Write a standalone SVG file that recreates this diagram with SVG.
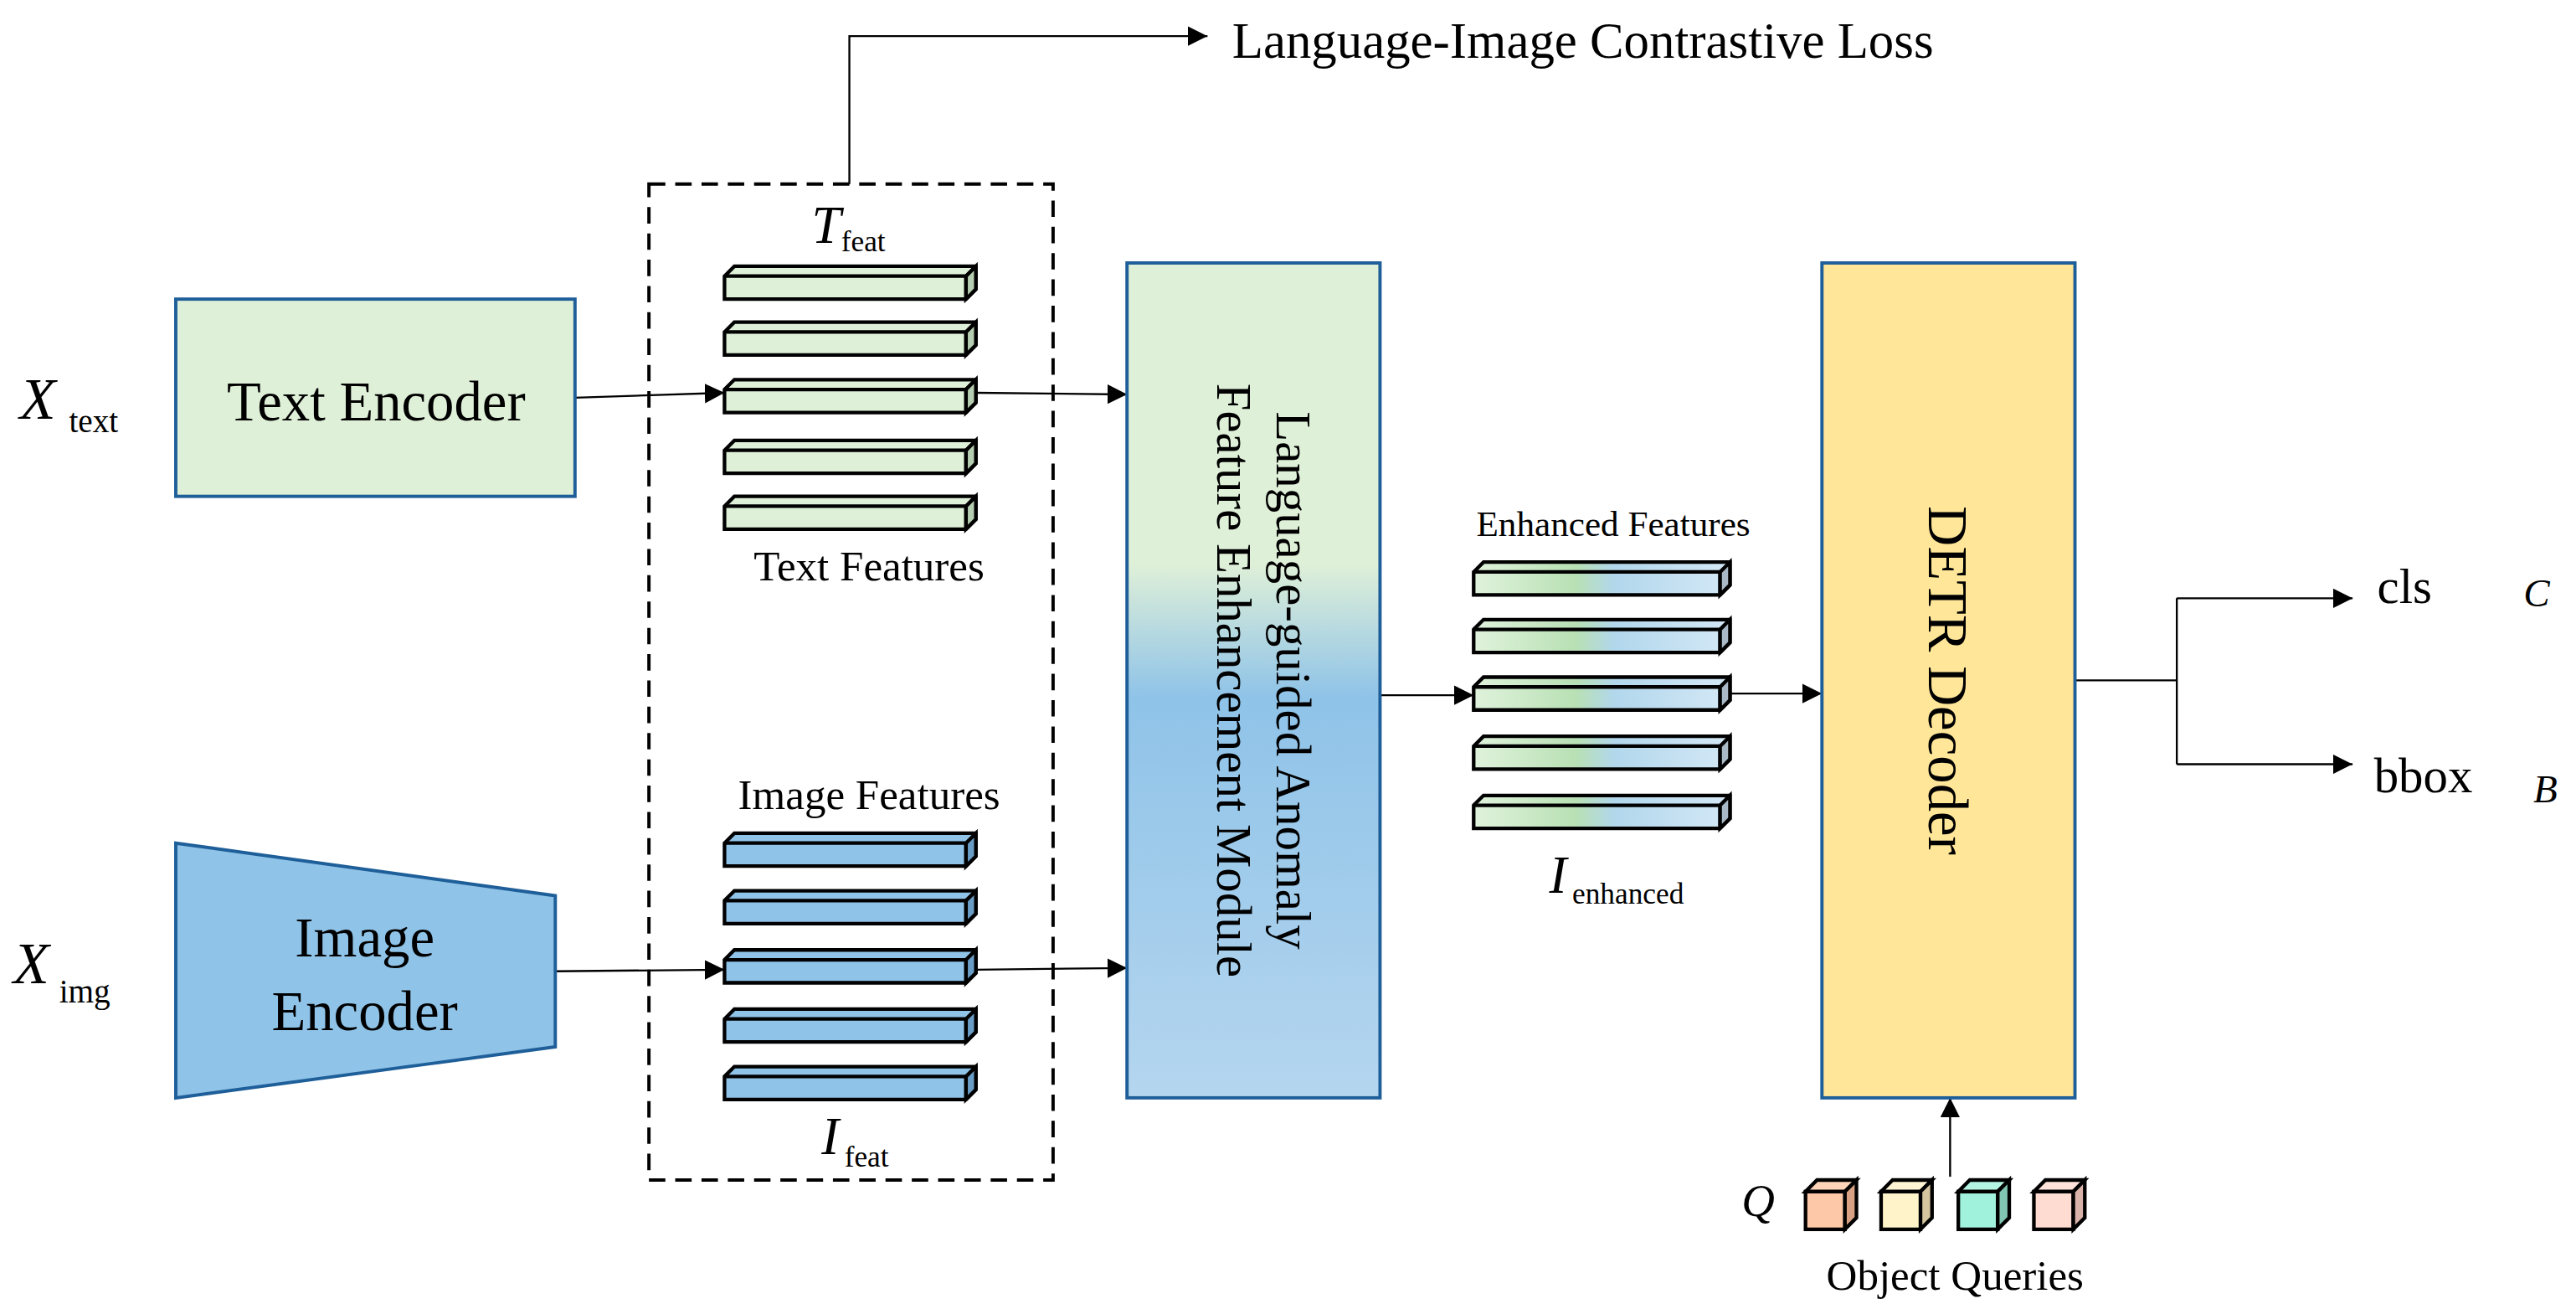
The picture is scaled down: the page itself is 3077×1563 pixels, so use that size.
<svg xmlns="http://www.w3.org/2000/svg" width="3077" height="1563" viewBox="0 0 3077 1563">
<style>
text{font-family:"Liberation Serif","Times New Roman",serif;fill:#000}
.it{font-style:italic}
.box{stroke:#1f5f99;stroke-width:2}
.bar{stroke:#000;stroke-width:2.2}
.ln{stroke:#000;stroke-width:1.2;fill:none}
</style>
<defs>
<marker id="ah" viewBox="0 0 10 10" refX="10" refY="5" markerWidth="12" markerHeight="12" markerUnits="userSpaceOnUse" orient="auto"><path d="M0,0L10,5L0,10z" fill="#000"/></marker>
<linearGradient id="lg" x1="0" y1="0" x2="0" y2="1"><stop offset="0" stop-color="#dff0d8"/><stop offset="0.36" stop-color="#dff0d8"/><stop offset="0.52" stop-color="#8fc3e8"/><stop offset="1" stop-color="#b5d6ef"/></linearGradient>
<linearGradient id="eg" x1="0" y1="0" x2="1" y2="0"><stop offset="0" stop-color="#e0f2dc"/><stop offset="0.4" stop-color="#b8e0b4"/><stop offset="0.55" stop-color="#b2d7ec"/><stop offset="1" stop-color="#d4e8f6"/></linearGradient>
<g id="tbar"><path class="bar" d="M0,6L6,0H153V14L147,20H0Z" fill="#dff0d8"/><path class="bar" d="M0,6H147V20M147,6L153,0" fill="none"/><path d="M147,6L153,0V14L147,20Z" fill="#b5cdb0" stroke="#000" stroke-width="2.2"/></g>
<g id="ibar"><path class="bar" d="M0,6L6,0H153V14L147,20H0Z" fill="#8fc3e8"/><path class="bar" d="M0,6H147V20" fill="none"/><path d="M147,6L153,0V14L147,20Z" fill="#6a9dc6" stroke="#000" stroke-width="2.2"/></g>
<g id="ebar"><path class="bar" d="M0,6L6,0H156V14L150,20H0Z" fill="url(#eg)"/><path class="bar" d="M0,6H150V20" fill="none"/><path d="M150,6L156,0V14L150,20Z" fill="#a9b9c6" stroke="#000" stroke-width="2.2"/></g>
</defs>
<g transform="scale(1.9624)">
<g id="connectors">
<path class="ln" d="M517,112V22H735" marker-end="url(#ah)"/>
<path class="ln" d="M350,242L441,239" marker-end="url(#ah)"/>
<path class="ln" d="M594,239L686,240" marker-end="url(#ah)"/>
<path class="ln" d="M338,591L441,590" marker-end="url(#ah)"/>
<path class="ln" d="M594,590L686,589" marker-end="url(#ah)"/>
<path class="ln" d="M840,423H897" marker-end="url(#ah)"/>
<path class="ln" d="M1053,422H1109" marker-end="url(#ah)"/>
<path class="ln" d="M1263,414H1325M1325,364V465"/>
<path class="ln" d="M1325,364H1432" marker-end="url(#ah)"/>
<path class="ln" d="M1325,465H1432" marker-end="url(#ah)"/>
<path class="ln" d="M1187,716V668" marker-end="url(#ah)"/>
</g>
<g id="loss"><text x="750" y="35" font-size="31">Language-Image Contrastive Loss</text></g>
<g id="dashed"><rect x="395" y="112" width="246" height="606" fill="none" stroke="#000" stroke-width="2" stroke-dasharray="10,6"/></g>
<g id="xtext"><text x="12" y="255" font-size="36" class="it">X</text><text x="42" y="263" font-size="20">text</text></g>
<g id="textenc"><rect class="box" x="107" y="182" width="243" height="120" fill="#dff0d8"/><text x="229" y="256" font-size="34" text-anchor="middle">Text Encoder</text></g>
<g id="textfeat">
<text x="494" y="148" font-size="32" class="it">T</text><text x="512" y="153" font-size="18">feat</text>
<use href="#tbar" x="441" y="162"/><use href="#tbar" x="441" y="196"/><use href="#tbar" x="441" y="231"/><use href="#tbar" x="441" y="268"/><use href="#tbar" x="441" y="302"/>
<text x="529" y="353" font-size="26" text-anchor="middle">Text Features</text>
</g>
<g id="ximg"><text x="8" y="598" font-size="36" class="it">X</text><text x="36" y="610" font-size="20">img</text></g>
<g id="imgenc"><path class="box" d="M107,513L338,545V637L107,668Z" fill="#8fc3e8"/><text x="222" y="582" font-size="34" text-anchor="middle">Image</text><text x="222" y="627" font-size="34" text-anchor="middle">Encoder</text></g>
<g id="imgfeat">
<text x="529" y="492" font-size="26" text-anchor="middle">Image Features</text>
<use href="#ibar" x="441" y="507"/><use href="#ibar" x="441" y="542"/><use href="#ibar" x="441" y="578"/><use href="#ibar" x="441" y="614"/><use href="#ibar" x="441" y="649"/>
<text x="500" y="702" font-size="32" class="it">I</text><text x="514" y="710" font-size="18">feat</text>
</g>
<g id="lgafem"><rect class="box" x="686" y="160" width="154" height="508" fill="url(#lg)"/>
<g transform="translate(763,414) rotate(90)"><text x="0" y="-14" font-size="30" text-anchor="middle">Language-guided Anomaly</text><text x="0" y="22" font-size="30" text-anchor="middle">Feature Enhancement Module</text></g></g>
<g id="enh">
<text x="982" y="326" font-size="22" text-anchor="middle">Enhanced Features</text>
<use href="#ebar" x="897" y="342"/><use href="#ebar" x="897" y="377"/><use href="#ebar" x="897" y="412"/><use href="#ebar" x="897" y="448"/><use href="#ebar" x="897" y="484"/>
<text x="943" y="543" font-size="32" class="it">I</text><text x="957" y="550" font-size="18">enhanced</text>
</g>
<g id="detr"><rect class="box" x="1109" y="160" width="154" height="508" fill="#ffe699"/>
<g transform="translate(1186,414) rotate(90)"><text x="0" y="12" font-size="34" text-anchor="middle">DETR Decoder</text></g></g>
<g id="outputs"><text x="1447" y="367" font-size="30">cls</text><text x="1536" y="369" font-size="24" class="it">C</text>
<text x="1445" y="482" font-size="30">bbox</text><text x="1542" y="488" font-size="24" class="it">B</text></g>
<g id="queries"><text x="1060" y="740" font-size="28" class="it">Q</text>
<g stroke="#000" stroke-width="2.2">
<rect x="1099" y="725" width="24" height="23" fill="#fdc8a8"/><path d="M1099,725L1106,718H1130L1123,725Z" fill="#fdd4b8"/><path d="M1123,725L1130,718V741L1123,748Z" fill="#d8a183"/>
<rect x="1145" y="725" width="24" height="23" fill="#fff4c9"/><path d="M1145,725L1152,718H1176L1169,725Z" fill="#fff4d4"/><path d="M1169,725L1176,718V741L1169,748Z" fill="#d6c6a0"/>
<rect x="1192" y="725" width="24" height="23" fill="#a0f2dc"/><path d="M1192,725L1199,718H1223L1216,725Z" fill="#b4f4e2"/><path d="M1216,725L1223,718V741L1216,748Z" fill="#80c6b2"/>
<rect x="1238" y="725" width="24" height="23" fill="#ffdcd2"/><path d="M1238,725L1245,718H1269L1262,725Z" fill="#ffe2da"/><path d="M1262,725L1269,718V741L1262,748Z" fill="#d9b2aa"/>
</g>
<text x="1190" y="785" font-size="26" text-anchor="middle">Object Queries</text></g>
</g>
</svg>
